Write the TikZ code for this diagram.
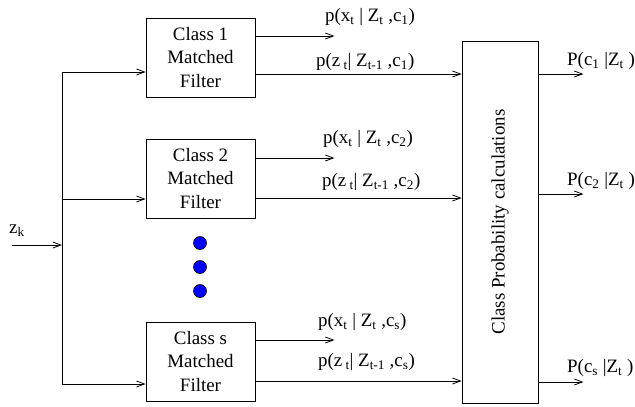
\documentclass[tikz,border=0pt]{standalone}
\usepackage{fontspec}
\setmainfont{Liberation Serif}
\usetikzlibrary{arrows.meta,positioning,calc}

\begin{document}
\begin{tikzpicture}[x=1bp,y=-1bp,
                filt/.style={draw,line width=0.8bp,minimum width=109bp,minimum height=79bp,
                             align=center,font=\fontsize{19}{24}\selectfont},
                probbox/.style={draw,line width=0.8bp,minimum width=76bp,minimum height=362bp},
                arr/.style={line width=0.8bp,-{Straight Barb[length=8bp,width=6bp]}},
                lab/.style={font=\fontsize{19}{21}\selectfont,inner sep=0pt,anchor=west},
                dot/.style={circle,draw,line width=0.6bp,fill=blue,minimum size=13bp,inner sep=0pt}
            ]
                \useasboundingbox (0,0) rectangle (635,406);
                \node[filt] (c1) at (200.5,57.5) {Class 1\\Matched\\Filter};
                \node[filt] (c2) at (200.5,178.5) {Class 2\\Matched\\Filter};
                \node[filt] (cs) at (200.5,361.5) {Class s\\Matched\\Filter};
                \node[dot] (d1) at (200,243) {};
                \node[dot] (d2) at (200,267) {};
                \node[dot] (d3) at (200,291) {};
                \node[probbox] (cp) at (500,222) {};
                \node[rotate=90,font=\fontsize{19}{24}\selectfont] (cptext) at (cp) {Class Probability calculations};
                % input
                \coordinate (zin) at (12,245);
                \coordinate (split) at (62,245);
                \node[lab] (zk) at (9,231) {z\textsubscript{k}};
                \draw[arr] (zin) -- (split);
                \draw[arr] (split) |- ([yshift=-14.5bp]c1.west);
                \draw[arr] (split) |- ([yshift=-20.5bp]c2.west);
                \draw[arr] (split) |- ([yshift=-22.5bp]cs.west);
                % filter outputs
                \draw[arr] ([yshift=21.5bp]c1.east) -- ++(79,0);
                \draw[arr] ([yshift=-16.5bp]c1.east) -- ([yshift=-16.5bp]c1.east -| cp.west);
                \draw[arr] ([yshift=20.5bp]c2.east) -- ++(79,0);
                \draw[arr] ([yshift=-19.5bp]c2.east) -- ([yshift=-19.5bp]c2.east -| cp.west);
                \draw[arr] ([yshift=21.5bp]cs.east) -- ++(79,0);
                \draw[arr] ([yshift=-19.5bp]cs.east) -- ([yshift=-19.5bp]cs.east -| cp.west);
                \node[lab] (px1) at (325,17) {p(x\textsubscript{t} | Z\textsubscript{t} ,c\textsubscript{1})};
                \node[lab] (pz1) at (316,62) {p(z\,\textsubscript{t}| Z\textsubscript{t-1} ,c\textsubscript{1})};
                \node[lab] (px2) at (323,139) {p(x\textsubscript{t} | Z\textsubscript{t} ,c\textsubscript{2})};
                \node[lab] (pz2) at (322,182) {p(z\,\textsubscript{t}| Z\textsubscript{t-1} ,c\textsubscript{2})};
                \node[lab] (pxs) at (318,322) {p(x\textsubscript{t} | Z\textsubscript{t} ,c\textsubscript{s})};
                \node[lab] (pzs) at (318,362) {p(z\,\textsubscript{t}| Z\textsubscript{t-1} ,c\textsubscript{s})};
                % class probabilities
                \draw[arr] ([yshift=148bp]cp.east) -- ++(45,0);
                \draw[arr] ([yshift=28bp]cp.east) -- ++(45,0);
                \draw[arr] ([yshift=-160bp]cp.east) -- ++(45,0);
                \node[lab] (pc1) at (567,61) {P(c\textsubscript{1} |Z\textsubscript{t} )};
                \node[lab] (pc2) at (567,181) {P(c\textsubscript{2} |Z\textsubscript{t} )};
                \node[lab] (pcs) at (567,368) {P(c\textsubscript{s} |Z\textsubscript{t} )};
            \end{tikzpicture}
\end{document}
